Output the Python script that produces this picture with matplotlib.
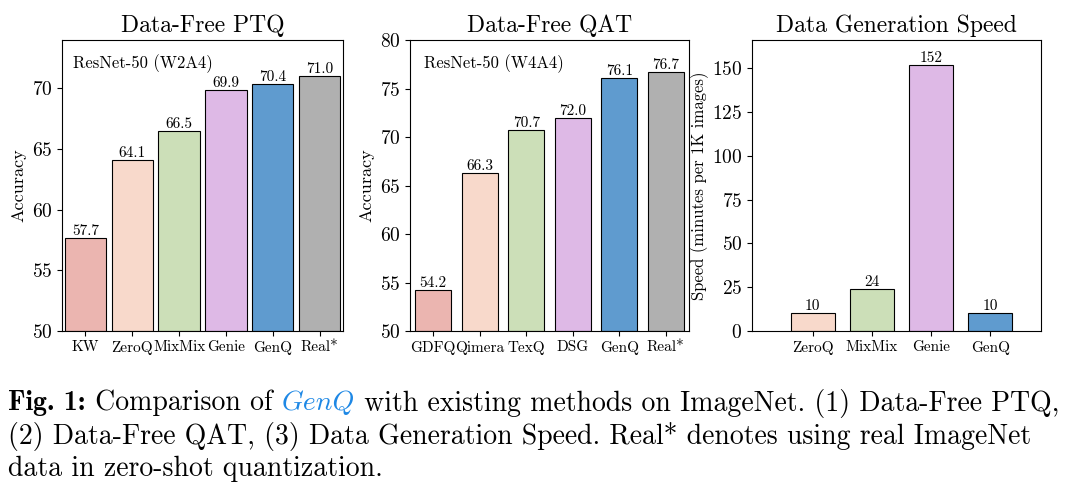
import matplotlib
matplotlib.use("Agg")
import matplotlib.pyplot as plt

plt.rcParams['font.family'] = ['cmr10', 'DejaVu Serif']
plt.rcParams['axes.formatter.use_mathtext'] = True
plt.rcParams['mathtext.fontset'] = 'cm'

ptq_methods = ["KW", "ZeroQ", "MixMix", "Genie", "GenQ", "Real*"]
ptq_acc = [57.7, 64.1, 66.5, 69.9, 70.4, 71.0]
qat_methods = ["GDFQ", "Qimera", "TexQ", "DSG", "GenQ", "Real*"]
qat_acc = [54.2, 66.3, 70.7, 72.0, 76.1, 76.7]
speed_methods = ["ZeroQ", "MixMix", "Genie", "GenQ"]
speed_vals = [10, 24, 152, 10]

col = {"KW": "#EBB5B0", "GDFQ": "#EBB5B0", "ZeroQ": "#F8D9CB", "Qimera": "#F8D9CB",
       "MixMix": "#CCDFB8", "TexQ": "#CCDFB8", "Genie": "#DEB9E6", "DSG": "#DEB9E6",
       "GenQ": "#5F9BCF", "Real*": "#B0B0B0"}

fig = plt.figure(figsize=(10.73, 4.86), dpi=100)
W, H = 1073, 486

def add_ax(x0, x1, y0, y1):
    return fig.add_axes([x0 / W, 1 - y1 / H, (x1 - x0) / W, (y1 - y0) / H])

def bars(ax, names, vals, fmt, base, width):
    x = range(len(names))
    ax.bar(x, [v - base for v in vals], bottom=base, width=width,
           color=[col[n] for n in names], edgecolor="black", linewidth=0.8)
    for i, v in enumerate(vals):
        ax.text(i, v, fmt.format(v), ha="center", va="bottom", fontsize=11)
    ax.set_xticks(list(x))
    ax.set_xticklabels(names, fontsize=11)
    ax.tick_params(axis="y", labelsize=14)
    ax.set_xlim(-0.5, len(names) - 0.5)

ax1 = add_ax(62, 343, 40, 331)
bars(ax1, ptq_methods, ptq_acc, "{:.1f}", 50, 0.88)
ax1.set_ylim(50, 74)
ax1.set_yticks([50, 55, 60, 65, 70])
ax1.set_ylabel("Accuracy", fontsize=13)
ax1.set_title("Data-Free PTQ", fontsize=17)
ax1.text(0.04, 0.95, "ResNet-50 (W2A4)", transform=ax1.transAxes, va="top", fontsize=12)

ax2 = add_ax(410, 689, 40, 331)
bars(ax2, qat_methods, qat_acc, "{:.1f}", 50, 0.78)
ax2.set_ylim(50, 80)
ax2.set_yticks([50, 55, 60, 65, 70, 75, 80])
ax2.set_ylabel("Accuracy", fontsize=13)
ax2.set_title("Data-Free QAT", fontsize=17)
ax2.text(0.05, 0.95, "ResNet-50 (W4A4)", transform=ax2.transAxes, va="top", fontsize=12)

ax3 = add_ax(752, 1041, 40, 331)
bars(ax3, speed_methods, speed_vals, "{:d}", 0, 0.75)
ax3.set_xlim(-1.03, 3.86)
ax3.set_ylim(0, 166)
ax3.set_yticks([0, 25, 50, 75, 100, 125, 150])
ax3.set_ylabel("Speed (minutes per 1K images)", fontsize=12, labelpad=2)
ax3.set_title("Data Generation Speed", fontsize=17)

# caption, written run by run
fig.canvas.draw()
rend = fig.canvas.get_renderer()
lines = [
    [("Fig. 1:", "cmb10", "black"), (" Comparison of ", "cmr10", "black"),
     ("GenQ", "cmmi10", "#1E88E5"),
     (" with existing methods on ImageNet. (1) Data-Free PTQ,", "cmr10", "black")],
    [("(2) Data-Free QAT, (3) Data Generation Speed. Real* denotes using real ImageNet", "cmr10", "black")],
    [("data in zero-shot quantization.", "cmr10", "black")],
]
for li, line in enumerate(lines):
    x = 8
    y = 403 + li * 33
    for s, fam, c in line:
        t = fig.text(x / W, 1 - y / H, s, fontsize=20, family=fam, color=c, va="center")
        bb = t.get_window_extent(rend)
        x += bb.width * W / fig.bbox.width

fig.savefig("out.png", dpi=100)
